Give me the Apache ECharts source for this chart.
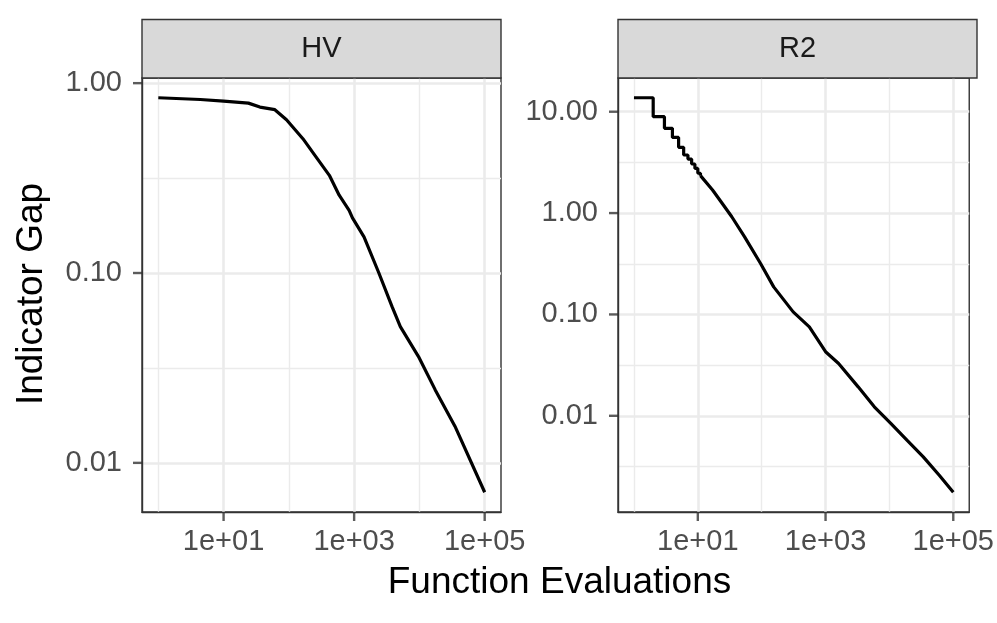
<!DOCTYPE html>
<html><head><meta charset="utf-8">
<script src="https://cdn.jsdelivr.net/npm/echarts@6/dist/echarts.min.js"></script>
<style>html,body{margin:0;padding:0;background:#fff}#c{width:997px;height:623px}</style>
</head><body><div id="c"></div>
<script>
// ---- data ----
const panels = ['HV', 'R2'];
const hvX = [1, 4.4, 10, 24, 36, 61, 92, 164, 262, 417, 590, 838, 942, 1416, 2393, 3810, 5100, 9680, 17400, 35000, 100000];
const hvY = [0.838, 0.82, 0.804, 0.785, 0.748, 0.725, 0.642, 0.51, 0.408, 0.327, 0.257, 0.214, 0.195, 0.155, 0.10, 0.0665, 0.0522, 0.0363, 0.0243, 0.0156, 0.0070];
const r2StepX = [1, 2, 3, 4, 5, 6, 7, 8, 9, 10, 11];
const r2StepY = [13.74, 8.93, 6.86, 5.58, 4.45, 3.74, 3.41, 3.05, 2.76, 2.47, 2.34];
const r2X = [11, 17, 24, 34, 54, 96, 154, 311, 557, 1000, 1600, 3240, 5800, 10500, 18800, 33900, 60300, 100000];
const r2Y = [2.34, 1.69, 1.25, 0.92, 0.583, 0.318, 0.187, 0.106, 0.0755, 0.0429, 0.0328, 0.0193, 0.01225, 0.0084, 0.00574, 0.00393, 0.00259, 0.00176];
const xMajorExp = [1, 3, 5];
const xMinorExp = [0, 2, 4];
const hvMajorExp = [-2, -1, 0];
const hvMinorExp = [-1.5, -0.5];
const r2MajorExp = [-2, -1, 0, 1];
const r2MinorExp = [-2.5, -1.5, -0.5, 0.5];
const xTitle = 'Function Evaluations';
const yTitle = 'Indicator Gap';

// ---- helpers ----
const L = Math.log10;
const pairs = (xs, ys) => xs.map((x, i) => [L(x), L(ys[i])]);
function padExt(vals) {
  const lo = Math.min(...vals), hi = Math.max(...vals), p = (hi - lo) * 0.05;
  return [lo - p, hi + p];
}
const xExt = padExt([L(1), L(100000)]);
const hvExt = padExt(hvY.map(L));
const r2Ext = padExt(r2StepY.concat(r2Y).map(L));

const FONT = '"Liberation Sans", Arial, Helvetica, sans-serif';
const GRID_W = 359, TOP = 78, H = 434;
const lefts = [142, 618];
const GRID_COL = '#EBEBEB';
const TICK_LEN = 9, TICK_W = 2.4;

function mainX(g) {
  return [{
    type: 'value', gridIndex: g, min: xExt[0], max: xExt[1], position: 'bottom',
    axisLine: { show: true, onZero: false, lineStyle: { color: '#333333', width: 1.4 } },
    axisTick: { show: false, customValues: xMajorExp },
    axisLabel: { customValues: xMajorExp, margin: 15, fontSize: 29, color: '#4D4D4D', fontFamily: FONT,
      formatter: v => '1e+' + String(Math.round(v)).padStart(2, '0') },
    splitLine: { show: true, lineStyle: { color: GRID_COL, width: 2.6 } }
  }, {
    type: 'value', gridIndex: g, min: xExt[0], max: xExt[1], position: 'top',
    axisLine: { show: false, onZero: false },
    axisTick: { show: false, customValues: xMinorExp },
    axisLabel: { show: false, customValues: xMinorExp },
    splitLine: { show: true, lineStyle: { color: GRID_COL, width: 1.4 } }
  }];
}
function mainY(g, ext, major, minor) {
  return [{
    type: 'value', gridIndex: g, min: ext[0], max: ext[1], position: 'left',
    axisLine: { show: true, onZero: false, lineStyle: { color: '#333333', width: 1.4 } },
    axisTick: { show: false, customValues: major },
    axisLabel: { customValues: major, margin: 20, fontSize: 29, color: '#4D4D4D', fontFamily: FONT,
      formatter: v => Math.pow(10, v).toFixed(2) },
    splitLine: { show: true, lineStyle: { color: GRID_COL, width: 2.6 } }
  }, {
    type: 'value', gridIndex: g, min: ext[0], max: ext[1], position: 'right',
    axisLine: { show: false, onZero: false },
    axisTick: { show: false, customValues: minor },
    axisLabel: { show: false, customValues: minor },
    splitLine: { show: true, lineStyle: { color: GRID_COL, width: 1.4 } }
  }];
}

const chart = echarts.init(document.getElementById('c'), null, { renderer: 'canvas' });

const graphics = [];
panels.forEach((name, i) => {
  graphics.push({ type: 'rect', z: 10, shape: { x: lefts[i], y: 19.5, width: GRID_W, height: TOP - 19.5 },
    style: { fill: '#D9D9D9', stroke: '#333333', lineWidth: 1.4 } });
  graphics.push({ type: 'text', z: 11, x: lefts[i] + GRID_W / 2, y: 49,
    style: { text: name, fontSize: 29, fontFamily: FONT, fill: '#1A1A1A', align: 'center', verticalAlign: 'middle' } });
});
graphics.push({ type: 'text', z: 11, x: 559.5, y: 583,
  style: { text: xTitle, fontSize: 37, fontFamily: FONT, fill: '#000000', align: 'center', verticalAlign: 'middle' } });
graphics.push({ type: 'text', z: 11, x: 32, y: 294, rotation: Math.PI / 2,
  style: { text: yTitle, fontSize: 37, fontFamily: FONT, fill: '#000000', align: 'center', verticalAlign: 'middle' } });

const mk = (name, xi, yi, data, step) => ({
  name, type: 'line', xAxisIndex: xi, yAxisIndex: yi, data, step: step || false,
  showSymbol: false, symbol: 'none', z: 5,
  lineStyle: { color: '#000000', width: 3.2 }
});
// axis tick marks, placed through the axes at the tick values, drawn just outside the panel
const ticksX = (xi, yi, yExt) => ({
  name: 'xticks', type: 'scatter', xAxisIndex: xi, yAxisIndex: yi, clip: false, silent: true, z: 6,
  data: xMajorExp.map(v => [v, yExt[0]]),
  symbol: 'rect', symbolSize: [TICK_W, TICK_LEN], symbolOffset: [0, TICK_LEN / 2],
  itemStyle: { color: '#333333' }
});
const ticksY = (xi, yi, major) => ({
  name: 'yticks', type: 'scatter', xAxisIndex: xi, yAxisIndex: yi, clip: false, silent: true, z: 6,
  data: major.map(v => [xExt[0], v]),
  symbol: 'rect', symbolSize: [TICK_LEN, TICK_W], symbolOffset: [-TICK_LEN / 2, 0],
  itemStyle: { color: '#333333' }
});

chart.setOption({
  animation: false,
  backgroundColor: '#ffffff',
  tooltip: { show: false },
  grid: lefts.map(l => ({ left: l, top: TOP, width: GRID_W, height: H, show: true,
    borderColor: '#333333', borderWidth: 1.4, backgroundColor: 'transparent' })),
  xAxis: mainX(0).concat(mainX(1)),
  yAxis: mainY(0, hvExt, hvMajorExp, hvMinorExp).concat(mainY(1, r2Ext, r2MajorExp, r2MinorExp)),
  series: [
    mk('HV', 0, 0, pairs(hvX, hvY)),
    mk('R2 steps', 2, 2, pairs(r2StepX, r2StepY), 'end'),
    mk('R2', 2, 2, pairs(r2X, r2Y)),
    ticksX(0, 0, hvExt), ticksY(0, 0, hvMajorExp),
    ticksX(2, 2, r2Ext), ticksY(2, 2, r2MajorExp)
  ],
  graphic: graphics
});
</script></body></html>
